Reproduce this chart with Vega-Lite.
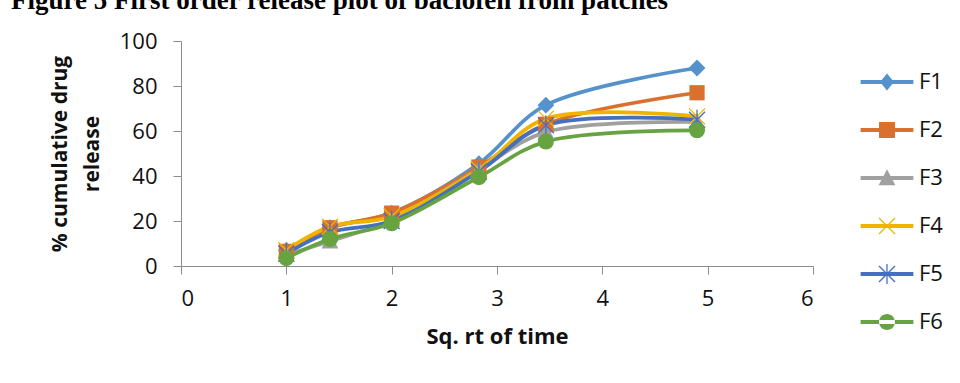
{
  "$schema": "https://vega.github.io/schema/vega-lite/v6.json",
  "autosize": {"type": "none"},
  "width": 632,
  "height": 225,
  "padding": {"left": 181, "top": 41, "right": 147, "bottom": 117},
  "background": "white",
  "config": {
    "view": {"stroke": null},
    "font": "Open Sans"
  },
  "title": {
    "text": "Figure 5 First order release plot of baclofen from patches",
    "anchor": "start",
    "frame": "group",
    "orient": "top",
    "font": "Liberation Serif",
    "fontSize": 27,
    "fontWeight": "bold",
    "color": "black",
    "baseline": "alphabetic",
    "dx": -170,
    "offset": -6
  },
  "data": {
    "values": [
      {"series": "F1", "x": 1, "y": 7},
      {"series": "F1", "x": 1.414, "y": 17},
      {"series": "F1", "x": 2, "y": 23.5},
      {"series": "F1", "x": 2.828, "y": 45.5},
      {"series": "F1", "x": 3.464, "y": 71.5},
      {"series": "F1", "x": 4.899, "y": 88},
      {"series": "F2", "x": 1, "y": 6.5},
      {"series": "F2", "x": 1.414, "y": 17},
      {"series": "F2", "x": 2, "y": 23.5},
      {"series": "F2", "x": 2.828, "y": 44},
      {"series": "F2", "x": 3.464, "y": 63},
      {"series": "F2", "x": 4.899, "y": 77},
      {"series": "F3", "x": 1, "y": 5},
      {"series": "F3", "x": 1.414, "y": 11},
      {"series": "F3", "x": 2, "y": 20.5},
      {"series": "F3", "x": 2.828, "y": 43},
      {"series": "F3", "x": 3.464, "y": 59.5},
      {"series": "F3", "x": 4.899, "y": 64},
      {"series": "F4", "x": 1, "y": 7},
      {"series": "F4", "x": 1.414, "y": 17.5},
      {"series": "F4", "x": 2, "y": 22},
      {"series": "F4", "x": 2.828, "y": 43},
      {"series": "F4", "x": 3.464, "y": 65.5},
      {"series": "F4", "x": 4.899, "y": 66.5},
      {"series": "F5", "x": 1, "y": 5.5},
      {"series": "F5", "x": 1.414, "y": 15},
      {"series": "F5", "x": 2, "y": 20},
      {"series": "F5", "x": 2.828, "y": 42},
      {"series": "F5", "x": 3.464, "y": 62.5},
      {"series": "F5", "x": 4.899, "y": 65},
      {"series": "F6", "x": 1, "y": 3.5},
      {"series": "F6", "x": 1.414, "y": 12},
      {"series": "F6", "x": 2, "y": 19},
      {"series": "F6", "x": 2.828, "y": 39.5},
      {"series": "F6", "x": 3.464, "y": 55.3},
      {"series": "F6", "x": 4.899, "y": 60.3}
    ]
  },
  "encoding": {
    "x": {
      "field": "x",
      "type": "quantitative",
      "scale": {"domain": [0, 6], "nice": false, "zero": false},
      "axis": {
        "values": [0, 1, 2, 3, 4, 5, 6],
        "format": "d",
        "grid": false,
        "domainColor": "#8c8c8c",
        "tickColor": "#8c8c8c",
        "tickSize": 8,
        "labelFont": "Open Sans",
        "labelFontSize": 22,
        "labelColor": "#111111",
        "labelPadding": 14,
        "title": "Sq. rt of time",
        "titleFont": "Open Sans",
        "titleFontSize": 22,
        "titleFontWeight": "bold",
        "titleColor": "#111111",
        "titlePadding": 17
      }
    },
    "y": {
      "field": "y",
      "type": "quantitative",
      "scale": {"domain": [0, 100], "nice": false},
      "axis": {
        "values": [0, 20, 40, 60, 80, 100],
        "grid": false,
        "domainColor": "#8c8c8c",
        "tickColor": "#8c8c8c",
        "tickSize": 8,
        "labelFont": "Open Sans",
        "labelFontSize": 22,
        "labelColor": "#111111",
        "labelPadding": 16,
        "title": ["% cumulative drug", "release"],
        "titleFont": "Open Sans",
        "titleFontSize": 21,
        "titleFontWeight": "bold",
        "titleColor": "#111111",
        "titleLineHeight": 32,
        "titlePadding": 17
      }
    }
  },
  "resolve": {"scale": {"color": "independent", "shape": "independent"}},
  "layer": [
    {
      "mark": {"type": "line", "strokeWidth": 3.75, "interpolate": "catmull-rom"},
      "encoding": {
        "color": {
          "field": "series",
          "type": "nominal",
          "scale": {
            "domain": ["F1", "F2", "F3", "F4", "F5", "F6"],
            "range": ["#5592CC", "#D9702E", "#A0A0A0", "#F0B400", "#4470BE", "#68A342"]
          },
          "legend": null
        },
        "detail": {"field": "series"}
      }
    },
    {
      "mark": {"type": "point", "filled": true, "size": 256, "opacity": 1},
      "encoding": {
        "color": {
          "field": "series",
          "type": "nominal",
          "scale": {
            "domain": ["F1", "F2", "F3", "F4", "F5", "F6"],
            "range": ["#5592CC", "#D9702E", "#A0A0A0", "#F0B400", "#4470BE", "#68A342"]
          },
          "legend": null
        },
        "shape": {
          "field": "series",
          "type": "nominal",
          "scale": {
            "domain": ["F1", "F2", "F3", "F4", "F5", "F6"],
            "range": [
              "M0,-1.05L1.05,0L0,1.05L-1.05,0Z",
              "M-0.95,-0.95H0.95V0.95H-0.95Z",
              "M0,-1.1L1.05,0.9H-1.05Z",
              "M-0.94,-1.06L1.06,0.94L0.94,1.06L-1.06,-0.94Z M-1.06,0.94L0.94,-1.06L1.06,-0.94L-0.94,1.06Z",
              "M-0.94,-1.06L1.06,0.94L0.94,1.06L-1.06,-0.94Z M-1.06,0.94L0.94,-1.06L1.06,-0.94L-0.94,1.06Z M-0.08,-1.25H0.08V1.25H-0.08Z",
              "circle"
            ]
          },
          "legend": null
        }
      }
    },
    {
      "transform": [{"filter": "datum.y < 0"}],
      "mark": {"type": "point", "filled": true, "size": 256, "opacity": 1},
      "encoding": {
        "color": {
          "field": "series",
          "type": "nominal",
          "scale": {
            "domain": ["F1", "F2", "F3", "F4", "F5", "F6"],
            "range": ["#5592CC", "#D9702E", "#A0A0A0", "#F0B400", "#4470BE", "#68A342"]
          },
          "legend": {
            "title": null,
            "orient": "none",
            "legendX": 695,
            "legendY": 30,
            "padding": 0,
            "symbolSize": 256,
            "symbolStrokeWidth": 0,
            "symbolOpacity": 1,
            "labelFont": "Open Sans",
            "labelFontSize": 22,
            "labelColor": "#111111",
            "labelOffset": 21,
            "rowPadding": 26
          }
        },
        "shape": {
          "field": "series",
          "type": "nominal",
          "scale": {
            "domain": ["F1", "F2", "F3", "F4", "F5", "F6"],
            "range": [
              "M-3.3,-0.24H3.3V0.24H-3.3Z M0,-1.05L0.88,0L0,1.05L-0.88,0Z",
              "M-3.3,-0.24H3.3V0.24H-3.3Z M-1,-1H1V1H-1Z",
              "M-3.3,-0.24H3.3V0.24H-3.3Z M0,-1.1L1.05,0.9H-1.05Z",
              "M-3.3,-0.24H3.3V0.24H-3.3Z M-0.94,-1.06L1.06,0.94L0.94,1.06L-1.06,-0.94Z M-1.06,0.94L0.94,-1.06L1.06,-0.94L-0.94,1.06Z",
              "M-3.3,-0.24H3.3V0.24H-3.3Z M-0.94,-1.06L1.06,0.94L0.94,1.06L-1.06,-0.94Z M-1.06,0.94L0.94,-1.06L1.06,-0.94L-0.94,1.06Z M-0.08,-1.25H0.08V1.25H-0.08Z",
              "M-3.3,-0.24H3.3V0.24H-3.3Z M-1,0A1,1,0,1,0,1,0A1,1,0,1,0,-1,0Z"
            ]
          },
          "legend": {
            "title": null,
            "orient": "none",
            "legendX": 695,
            "legendY": 30,
            "padding": 0,
            "symbolSize": 256,
            "symbolStrokeWidth": 0,
            "symbolOpacity": 1,
            "labelFont": "Open Sans",
            "labelFontSize": 22,
            "labelColor": "#111111",
            "labelOffset": 21,
            "rowPadding": 26
          }
        }
      }
    }
  ]
}
